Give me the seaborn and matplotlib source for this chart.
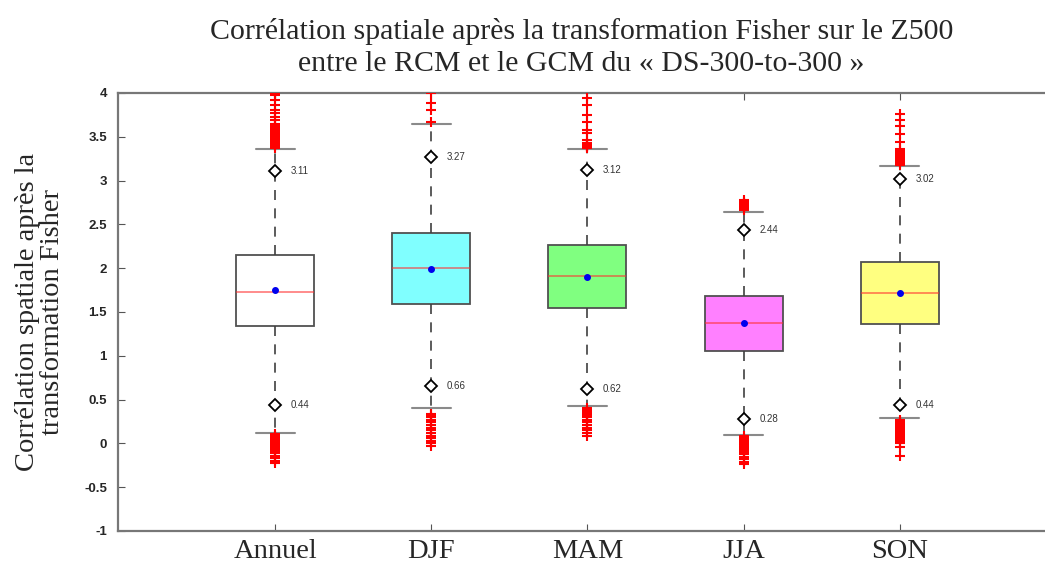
import numpy as np
import pandas as pd
import seaborn as sns
import matplotlib.pyplot as plt

categories = ["Annuel", "DJF", "MAM", "JJA", "SON"]
box_colors = ["#FFFFFF", "#80FFFF", "#80FF80", "#FF80FF", "#FFFF80"]

# five number summary
whisker_lo = [0.12, 0.40, 0.43, 0.10, 0.29]
q1 = [1.34, 1.59, 1.54, 1.05, 1.36]
median = [1.73, 2.00, 1.91, 1.37, 1.72]
q3 = [2.15, 2.40, 2.27, 1.68, 2.07]
whisker_hi = [3.36, 3.65, 3.36, 2.64, 3.17]
means = [1.75, 1.99, 1.90, 1.37, 1.72]

# diamonds (high and low percentiles)
pct_hi = [3.11, 3.27, 3.12, 2.44, 3.02]
pct_lo = [0.44, 0.66, 0.62, 0.28, 0.44]

outliers_annuel = [3.37, 3.39, 3.41, 3.43, 3.45, 3.47, 3.49, 3.51, 3.53, 3.55,
                   3.57, 3.59, 3.61, 3.63, 3.65, 3.69, 3.73, 3.77, 3.81, 3.86,
                   3.92, 3.98, 4.0,
                   0.11, 0.09, 0.07, 0.05, 0.03, 0.01, -0.01, -0.03, -0.05,
                   -0.07, -0.09, -0.11, -0.14, -0.17, -0.20, -0.22]
outliers_djf = [3.67, 3.81, 3.89, 4.0,
                0.34, 0.32, 0.30, 0.27, 0.24, 0.21, 0.18, 0.15, 0.12, 0.09,
                0.06, 0.03, 0.0, -0.03]
outliers_mam = [3.37, 3.38, 3.39, 3.40, 3.42, 3.43, 3.46, 3.54, 3.58, 3.67,
                3.75, 3.86, 3.94,
                0.40, 0.38, 0.36, 0.34, 0.32, 0.30, 0.27, 0.24, 0.21, 0.18,
                0.15, 0.12, 0.09]
outliers_jja = [2.66, 2.68, 2.70, 2.72, 2.74, 2.76, 2.78,
                0.08, 0.06, 0.04, 0.02, 0.0, -0.02, -0.04, -0.06, -0.08,
                -0.10, -0.12, -0.15, -0.18, -0.21, -0.23]
outliers_son = [3.18, 3.20, 3.22, 3.24, 3.26, 3.28, 3.30, 3.32, 3.34, 3.36,
                3.44, 3.53, 3.62, 3.69, 3.76,
                0.27, 0.25, 0.23, 0.21, 0.19, 0.17, 0.15, 0.13, 0.11, 0.09,
                0.07, 0.05, 0.03, 0.0, -0.04, -0.14]
outliers = [outliers_annuel, outliers_djf, outliers_mam, outliers_jja, outliers_son]

yticks = [-1, -0.5, 0, 0.5, 1, 1.5, 2, 2.5, 3, 3.5, 4]
ytick_labels = ["-1", "-0.5", "0", "0.5", "1", "1.5", "2", "2.5", "3", "3.5", "4"]

sns.set_style("white")
plt.rcParams["font.family"] = ["Liberation Serif", "DejaVu Serif"]
plt.rcParams["axes.unicode_minus"] = False

# values arranged so that the quartiles come out exactly as read
rows = []
for i, cat in enumerate(categories):
    for v in [whisker_lo[i], q1[i], q1[i], median[i], q3[i], q3[i], whisker_hi[i]]:
        rows.append({"saison": cat, "valeur": v})
df = pd.DataFrame(rows)

fig = plt.figure(figsize=(10.45, 5.67), dpi=100)
ax = fig.add_axes([0.113, 0.0635, 0.887, 0.7725])

sns.boxplot(data=df, x="saison", y="valeur", hue="saison", order=categories,
            hue_order=categories, palette=box_colors, saturation=1,
            width=0.5, whis=(0, 100), showfliers=False, legend=False,
            linecolor="#505050", linewidth=1.3,
            medianprops={"color": "#FF3030", "alpha": 0.6, "linewidth": 1.3},
            whiskerprops={"color": "#404040", "linestyle": (0, (6, 5)),
                          "linewidth": 1.2},
            capprops={"color": "#8A8A8A", "linewidth": 1.5},
            ax=ax)

for i in range(len(categories)):
    ax.plot(np.full(len(outliers[i]), i), outliers[i], linestyle="none",
            marker="+", color="red", markersize=7.5, markeredgewidth=1.5,
            clip_on=True, zorder=4)
    ax.plot([i, i], [pct_hi[i], pct_lo[i]], linestyle="none", marker="D",
            markersize=6.5, markerfacecolor="white", markeredgecolor="black",
            markeredgewidth=1.3, zorder=5)
    ax.plot(i, means[i], linestyle="none", marker="o", markersize=4,
            color="#0000EE", zorder=6)
    for v in (pct_hi[i], pct_lo[i]):
        ax.text(i + 0.1, v, f"{v:.2f}", fontsize=7, color="#333333",
                va="center", ha="left", family="Liberation Sans")

ax.set_xlim(-1.005, 4.93)
ax.set_ylim(-1, 4)
ax.set_yticks(yticks)
ax.set_yticklabels(ytick_labels, family="Liberation Sans", fontweight="bold",
                   fontsize=9.5)
ax.tick_params(axis="both", direction="in", length=5, color="#555555",
               top=True, left=True, bottom=True, right=False)
ax.tick_params(axis="x", labelsize=20.5, pad=6)
ax.tick_params(axis="y", pad=8)
ax.set_xlabel("")
ax.set_ylabel("Corrélation spatiale après la\ntransformation Fisher",
              fontsize=20.5, linespacing=1.0, labelpad=14)
ax.set_title("Corrélation spatiale après la transformation Fisher sur le Z500\n"
             "entre le RCM et le GCM du « DS-300-to-300 »",
             fontsize=21.5, linespacing=1.3, pad=16)

for side in ["left", "top", "bottom"]:
    ax.spines[side].set_color("#777777")
    ax.spines[side].set_linewidth(1.6)
ax.spines["right"].set_visible(False)

fig.savefig("out.png", dpi=100)
